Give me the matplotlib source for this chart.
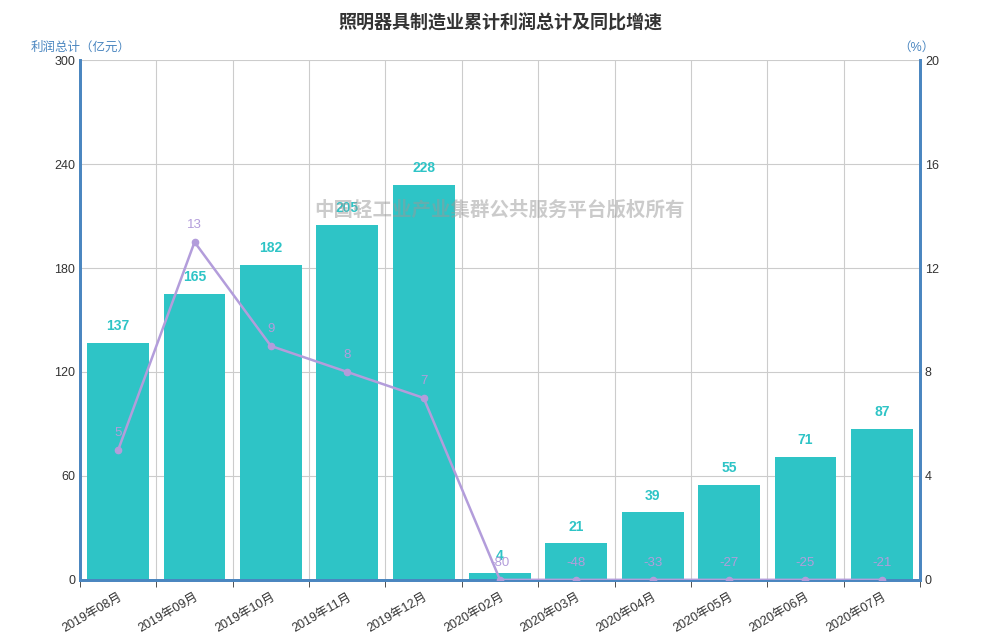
import matplotlib.pyplot as plt
import numpy as np

plt.rcParams['font.family'] = ['Liberation Sans', 'Noto Sans CJK SC']
plt.rcParams['axes.unicode_minus'] = False

# ==================== 数据 ====================
months = ['2019年08月', '2019年09月', '2019年10月', '2019年11月', '2019年12月',
          '2020年02月', '2020年03月', '2020年04月', '2020年05月', '2020年06月', '2020年07月']
profit = [137, 165, 182, 205, 228, 4, 21, 39, 55, 71, 87]      # 利润总计（亿元）
growth = [5, 13, 9, 8, 7, -80, -48, -33, -27, -25, -21]        # 同比增速（%）

bar_color = '#2EC4C6'
line_color = '#B39DDB'
axis_blue = '#4A86C0'

fig = plt.figure(figsize=(10, 6.4), dpi=100)
ax = fig.add_axes([0.08, 0.094, 0.84, 0.812])
ax2 = ax.twinx()

x = np.arange(len(months))

# 柱状图
ax.bar(x, profit, width=0.81, color=bar_color, zorder=2)
for xi, v in zip(x, profit):
    ax.annotate(str(v), (xi, v), xytext=(0, 7), textcoords='offset points',
                ha='center', va='bottom', color=bar_color, fontsize=10, fontweight='bold')

ax.set_xlim(-0.5, len(months) - 0.5)
ax.set_ylim(0, 300)
ax.set_yticks(range(0, 301, 60))
ax.set_xticks(x)
ax.set_xticklabels(months, rotation=30, ha='right', rotation_mode='anchor', fontsize=9, color='#333333')
ax.set_xticks(np.arange(-0.5, len(months), 1), minor=True)
ax.tick_params(axis='x', which='major', length=0, pad=8)
ax.tick_params(axis='x', which='minor', length=5, color='#333333')
ax.tick_params(axis='y', length=0, labelsize=9, labelcolor='#333333')

ax.grid(True, which='minor', axis='x', color='#cccccc', linewidth=0.8, zorder=0)
ax.grid(True, which='major', axis='y', color='#cccccc', linewidth=0.8, zorder=0)
ax.set_axisbelow(True)

# 折线（负值显示在0处）
ax2.set_ylim(0, 20)
ax2.set_yticks(range(0, 21, 4))
ax2.tick_params(axis='y', length=0, labelsize=9, labelcolor='#333333')
shown = [max(g, 0) for g in growth]
ax2.plot(x, shown, color=line_color, linewidth=1.8, marker='o', markersize=4.5, zorder=3)
for xi, s, g in zip(x, shown, growth):
    ax2.annotate(str(g), (xi, s), xytext=(0, 8), textcoords='offset points',
                 ha='center', va='bottom', color=line_color, fontsize=9.5)

for a in (ax, ax2):
    a.spines['top'].set_visible(False)
    a.spines['left'].set_color(axis_blue)
    a.spines['right'].set_color(axis_blue)
    a.spines['bottom'].set_color(axis_blue)
    for s in ('left', 'right', 'bottom'):
        a.spines[s].set_linewidth(2)

# 标题与轴标题
fig.text(0.5, 0.978, '照明器具制造业累计利润总计及同比增速', ha='center', va='top',
         fontsize=13, fontweight='bold', color='#333333')
fig.text(0.031, 0.925, '利润总计（亿元）', ha='left', va='center', fontsize=9, color=axis_blue)
fig.text(0.935, 0.925, '（%）', ha='right', va='center', fontsize=9, color=axis_blue)

# 水印
fig.text(0.5, 0.672, '中国轻工业产业集群公共服务平台版权所有', ha='center', va='center',
         fontsize=14, fontweight='bold', color='#999999', alpha=0.5, zorder=10)

plt.savefig('out.png', dpi=100)
